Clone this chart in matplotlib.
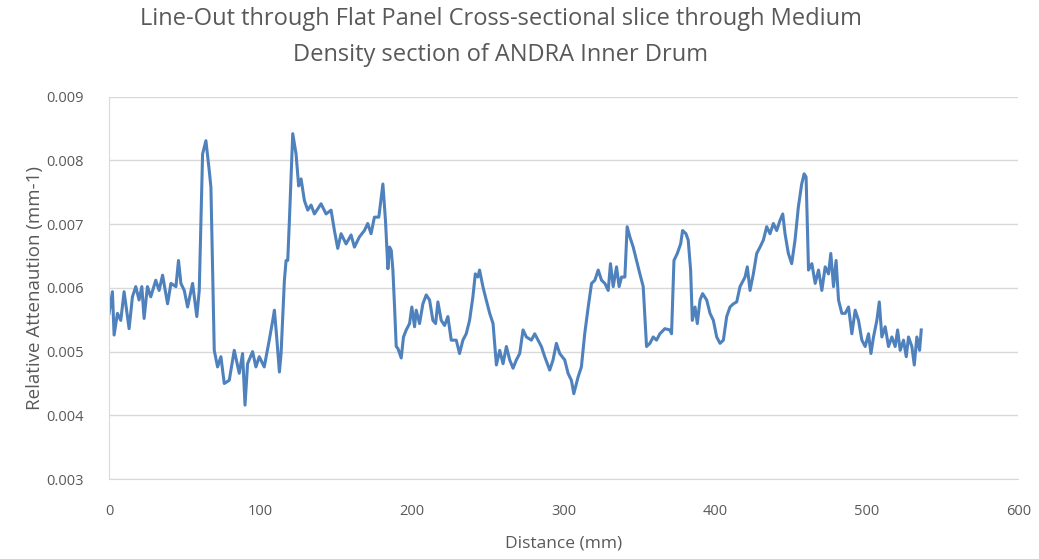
import matplotlib.pyplot as plt

# Line-out profile (distance in mm, attenuation in mm-1)
distance = [
    0.0, 2.2, 3.3, 5.5, 7.7, 9.9, 13.2, 15.4, 17.6, 19.8, 21.6, 23.1, 25.3, 27.5,
    30.8, 33.0, 35.3, 38.6, 40.8, 44.1, 45.8, 47.4, 49.6, 51.8, 55.1, 57.9, 59.5,
    61.7, 63.9, 66.1, 67.2, 69.4, 71.6, 73.8, 76.0, 79.3, 82.6, 85.9, 88.1, 89.7,
    91.4, 94.7, 96.9, 99.1, 102.4, 105.7, 108.0, 109.1, 110.6, 112.4, 113.5, 115.7,
    116.8, 117.9, 119.0, 121.2, 123.4, 125.1, 126.7, 128.9, 131.1, 133.3, 135.5,
    137.7, 139.9, 143.2, 146.5, 148.7, 150.9, 153.1, 156.4, 159.7, 161.9, 165.2,
    168.5, 170.7, 172.9, 175.1, 178.0, 180.7, 182.4, 184.0, 185.1, 186.2, 187.3,
    188.4, 189.5, 190.6, 192.8, 194.3, 196.1, 198.3, 199.8, 201.6, 202.7, 204.9,
    207.1, 209.3, 211.5, 213.7, 215.5, 217.0, 219.2, 221.4, 223.6, 225.8, 229.1,
    231.3, 233.5, 235.7, 237.9, 240.1, 241.7, 243.4, 244.5, 246.7, 248.9, 251.2,
    253.4, 255.6, 257.8, 260.0, 262.2, 264.4, 266.6, 268.8, 271.0, 273.2, 275.4,
    278.7, 280.9, 283.1, 285.3, 287.5, 290.8, 293.0, 295.2, 297.4, 300.7, 302.9,
    305.1, 306.7, 309.5, 311.7, 313.9, 316.2, 318.4, 320.6, 322.8, 325.0, 327.2,
    329.4, 330.9, 332.7, 334.9, 336.6, 338.2, 340.4, 341.9, 343.7, 345.9, 348.1,
    350.3, 352.5, 354.7, 356.9, 359.1, 361.3, 363.5, 366.8, 370.1, 371.2, 372.8,
    375.0, 377.2, 378.5, 380.7, 382.2, 383.8, 384.9, 386.7, 388.2, 390.0, 391.7,
    394.4, 396.6, 398.8, 401.0, 403.2, 405.4, 407.6, 409.8, 412.0, 414.2, 416.4,
    419.7, 421.2, 423.0, 425.2, 427.4, 429.6, 431.8, 434.0, 436.2, 438.4, 440.6,
    442.8, 444.6, 446.1, 448.3, 450.5, 452.7, 454.9, 457.1, 458.7, 460.0, 461.6,
    463.8, 466.0, 468.2, 470.4, 472.6, 474.8, 476.3, 478.1, 479.8, 481.4, 483.6,
    485.8, 488.0, 490.2, 492.4, 494.6, 496.8, 499.0, 501.2, 502.8, 504.5, 506.7,
    508.3, 510.0, 512.2, 514.4, 516.6, 518.8, 520.4, 522.1, 524.3, 526.1, 527.6,
    529.8, 531.4, 533.1, 534.9, 536.0,
]
attenuation = [
    0.00560, 0.00594, 0.00526, 0.00560, 0.00549, 0.00594, 0.00536, 0.00586, 0.00602,
    0.00581, 0.00602, 0.00552, 0.00602, 0.00586, 0.00612, 0.00596, 0.00620, 0.00575,
    0.00607, 0.00602, 0.00643, 0.00607, 0.00596, 0.00570, 0.00607, 0.00555, 0.00596,
    0.00810, 0.00831, 0.00784, 0.00758, 0.00502, 0.00476, 0.00492, 0.00450, 0.00455,
    0.00502, 0.00466, 0.00497, 0.00416, 0.00481, 0.00500, 0.00476, 0.00492, 0.00476,
    0.00518, 0.00549, 0.00565, 0.00523, 0.00468, 0.00497, 0.00612, 0.00643, 0.00643,
    0.00706, 0.00842, 0.00810, 0.00760, 0.00771, 0.00737, 0.00722, 0.00730, 0.00716,
    0.00724, 0.00732, 0.00716, 0.00722, 0.00690, 0.00662, 0.00685, 0.00669, 0.00683,
    0.00664, 0.00680, 0.00690, 0.00701, 0.00685, 0.00711, 0.00711, 0.00763, 0.00706,
    0.00630, 0.00664, 0.00659, 0.00628, 0.00570, 0.00508, 0.00505, 0.00490, 0.00523,
    0.00534, 0.00544, 0.00570, 0.00539, 0.00565, 0.00544, 0.00575, 0.00589, 0.00581,
    0.00549, 0.00544, 0.00578, 0.00549, 0.00541, 0.00555, 0.00518, 0.00518, 0.00497,
    0.00518, 0.00528, 0.00549, 0.00586, 0.00622, 0.00617, 0.00628, 0.00602, 0.00581,
    0.00560, 0.00544, 0.00479, 0.00502, 0.00481, 0.00508, 0.00487, 0.00474, 0.00487,
    0.00497, 0.00534, 0.00523, 0.00518, 0.00528, 0.00518, 0.00508, 0.00492, 0.00471,
    0.00487, 0.00513, 0.00497, 0.00487, 0.00466, 0.00455, 0.00434, 0.00460, 0.00476,
    0.00528, 0.00570, 0.00607, 0.00612, 0.00628, 0.00612, 0.00607, 0.00596, 0.00638,
    0.00602, 0.00633, 0.00602, 0.00617, 0.00617, 0.00696, 0.00680, 0.00664, 0.00643,
    0.00622, 0.00602, 0.00508, 0.00513, 0.00523, 0.00518, 0.00528, 0.00536, 0.00534,
    0.00528, 0.00643, 0.00654, 0.00669, 0.00690, 0.00685, 0.00675, 0.00628, 0.00549,
    0.00570, 0.00544, 0.00581, 0.00591, 0.00581, 0.00560, 0.00549, 0.00523, 0.00513,
    0.00518, 0.00555, 0.00570, 0.00575, 0.00578, 0.00602, 0.00617, 0.00633, 0.00596,
    0.00622, 0.00654, 0.00664, 0.00675, 0.00696, 0.00685, 0.00701, 0.00690, 0.00706,
    0.00716, 0.00685, 0.00654, 0.00638, 0.00675, 0.00727, 0.00763, 0.00779, 0.00774,
    0.00628, 0.00638, 0.00607, 0.00628, 0.00596, 0.00633, 0.00622, 0.00654, 0.00602,
    0.00643, 0.00581, 0.00560, 0.00560, 0.00570, 0.00528, 0.00565, 0.00549, 0.00518,
    0.00508, 0.00528, 0.00497, 0.00523, 0.00549, 0.00578, 0.00523, 0.00539, 0.00508,
    0.00523, 0.00508, 0.00534, 0.00502, 0.00518, 0.00492, 0.00523, 0.00508, 0.00479,
    0.00523, 0.00502, 0.00534,
]

x_ticks = [0, 100, 200, 300, 400, 500, 600]
y_ticks = [0.003, 0.004, 0.005, 0.006, 0.007, 0.008, 0.009]

grey = "#595959"
plt.rcParams["font.family"] = ["Open Sans", "DejaVu Sans"]

fig = plt.figure(figsize=(10.39, 5.59), dpi=100)
ax = fig.add_axes([0.105, 0.143, 0.875, 0.684])

ax.plot(distance, attenuation, color="#4f81bd", linewidth=2.2)

ax.set_xlim(0, 600)
ax.set_ylim(0.003, 0.009)
ax.set_xticks(x_ticks)
ax.set_yticks(y_ticks)
ax.set_yticklabels(["%.3f" % v for v in y_ticks])
ax.grid(axis="y", color="#d9d9d9", linewidth=1)
ax.set_axisbelow(True)
ax.tick_params(length=0, colors=grey, labelsize=10.5)
ax.tick_params(axis="x", pad=18)
ax.tick_params(axis="y", pad=18)

for side in ["top", "right"]:
    ax.spines[side].set_visible(False)
for side in ["left", "bottom"]:
    ax.spines[side].set_color("#d9d9d9")

ax.set_xlabel("Distance (mm)", color=grey, fontsize=12.5, labelpad=12)
ax.set_ylabel("Relative Attenaution (mm-1)", color=grey, fontsize=13.5, labelpad=2)
fig.text(0.482, 0.966, "Line-Out through Flat Panel Cross-sectional slice through Medium",
         ha="center", va="center", color=grey, fontsize=17)
fig.text(0.482, 0.901, "Density section of ANDRA Inner Drum",
         ha="center", va="center", color=grey, fontsize=17)

fig.savefig("out.png", dpi=100)
